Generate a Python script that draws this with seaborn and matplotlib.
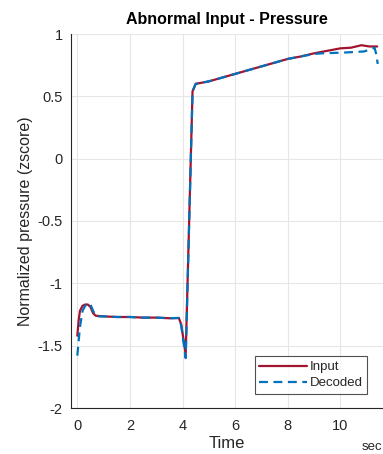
import numpy as np
import pandas as pd
import matplotlib
matplotlib.use("Agg")
import matplotlib.pyplot as plt
import seaborn as sns

# ---- data ----
t_input = [0.0, 0.05, 0.1, 0.2, 0.3, 0.4, 0.5, 0.6, 0.7, 1.0, 1.5, 2.0, 2.5, 3.0, 3.5, 3.86, 3.95, 4.12,
           4.38, 4.5, 5.0, 5.5, 6.0, 6.5, 7.0, 7.5, 8.0, 8.5, 9.0, 9.5, 10.0, 10.4, 10.8, 11.1, 11.4]
y_input = [-1.42, -1.30, -1.22, -1.18, -1.17, -1.17, -1.19, -1.24, -1.26, -1.265, -1.27, -1.27, -1.275, -1.275,
           -1.28, -1.278, -1.33, -1.57,
           0.54, 0.60, 0.62, 0.65, 0.68, 0.71, 0.74, 0.77, 0.80, 0.82, 0.845, 0.865, 0.885, 0.89, 0.91, 0.90, 0.90]

t_decoded = [0.0, 0.1, 0.2, 0.3, 0.4, 0.5, 0.6, 0.7, 0.8, 1.0, 1.5, 2.0, 2.5, 3.0, 3.5, 3.86, 3.95, 4.12,
             4.38, 4.5, 5.0, 5.5, 6.0, 6.5, 7.0, 7.5, 8.0, 8.5, 9.0, 9.3, 10.0, 10.5, 10.9, 11.2, 11.3, 11.36, 11.42]
y_decoded = [-1.58, -1.35, -1.22, -1.18, -1.16, -1.17, -1.22, -1.26, -1.265, -1.265, -1.27, -1.27, -1.275, -1.275,
             -1.28, -1.278, -1.34, -1.60,
             0.54, 0.60, 0.62, 0.65, 0.68, 0.71, 0.74, 0.77, 0.80, 0.82, 0.84, 0.845, 0.85, 0.855, 0.86, 0.88, 0.89, 0.84, 0.76]

series_names = ["Input", "Decoded"]
x_ticks = [0, 2, 4, 6, 8, 10]
y_ticks = [-2, -1.5, -1, -0.5, 0, 0.5, 1]
y_tick_labels = ["-2", "-1.5", "-1", "-0.5", "0", "0.5", "1"]

title = "Abnormal Input - Pressure"
xlabel = "Time"
ylabel = "Normalized pressure (zscore)"
unit_label = "sec"

df = pd.concat([
    pd.DataFrame({"t": t_input, "y": y_input, "series": series_names[0]}),
    pd.DataFrame({"t": t_decoded, "y": y_decoded, "series": series_names[1]}),
], ignore_index=True)

sns.set_theme(style="white")
plt.rcParams["font.family"] = ["Liberation Sans", "DejaVu Sans"]

fig = plt.figure(figsize=(3.83, 4.54), dpi=100)
ax = fig.add_axes([71 / 383, 1 - 408 / 454, 1 - 71 / 383, (408 - 34) / 454])

palette = {"Input": "#A2142F", "Decoded": "#0072BD"}
sns.lineplot(data=df[df.series == "Input"], x="t", y="y", ax=ax, color=palette["Input"],
             linewidth=1.6, label="Input", sort=False, estimator=None)
sns.lineplot(data=df[df.series == "Decoded"], x="t", y="y", ax=ax, color=palette["Decoded"],
             linewidth=1.6, linestyle=(0, (4, 2.5)), label="Decoded", sort=False, estimator=None)

ax.set_xlim(-0.24, 11.62)
ax.set_ylim(-2, 1)
ax.set_xticks(x_ticks)
ax.set_xticklabels([str(v) for v in x_ticks])
ax.set_yticks(y_ticks)
ax.set_yticklabels(y_tick_labels)
ax.grid(True, color="#e6e6e6", linewidth=0.8)
ax.set_axisbelow(True)

for s in ["top", "right"]:
    ax.spines[s].set_visible(False)
for s in ["left", "bottom"]:
    ax.spines[s].set_color("#262626")
    ax.spines[s].set_linewidth(0.8)

ax.tick_params(axis="both", direction="in", length=3, width=0.6, color="#262626",
               labelsize=10.5, labelcolor="#262626")
ax.tick_params(axis="x", pad=8)
ax.tick_params(axis="y", pad=6)

ax.set_title(title, fontsize=11.5, fontweight="bold", color="black", pad=7)
ax.set_xlabel(xlabel, fontsize=12, color="#262626", labelpad=2)
ax.set_ylabel(ylabel, fontsize=11.5, color="#262626", labelpad=3)
fig.text(372 / 383, 1 - 447 / 454, unit_label, fontsize=9.5, color="#262626", ha="center", va="center")

leg = ax.legend(loc="lower right", bbox_to_anchor=(367 / 383, 1 - 394 / 454), bbox_transform=fig.transFigure,
                frameon=True, fancybox=False, fontsize=9.5, handlelength=3.6, handletextpad=0.2,
                borderpad=0.35, labelspacing=0.3, borderaxespad=0)
leg.get_frame().set_edgecolor("#262626")
leg.get_frame().set_linewidth(0.8)

fig.savefig("out.png", dpi=100)
